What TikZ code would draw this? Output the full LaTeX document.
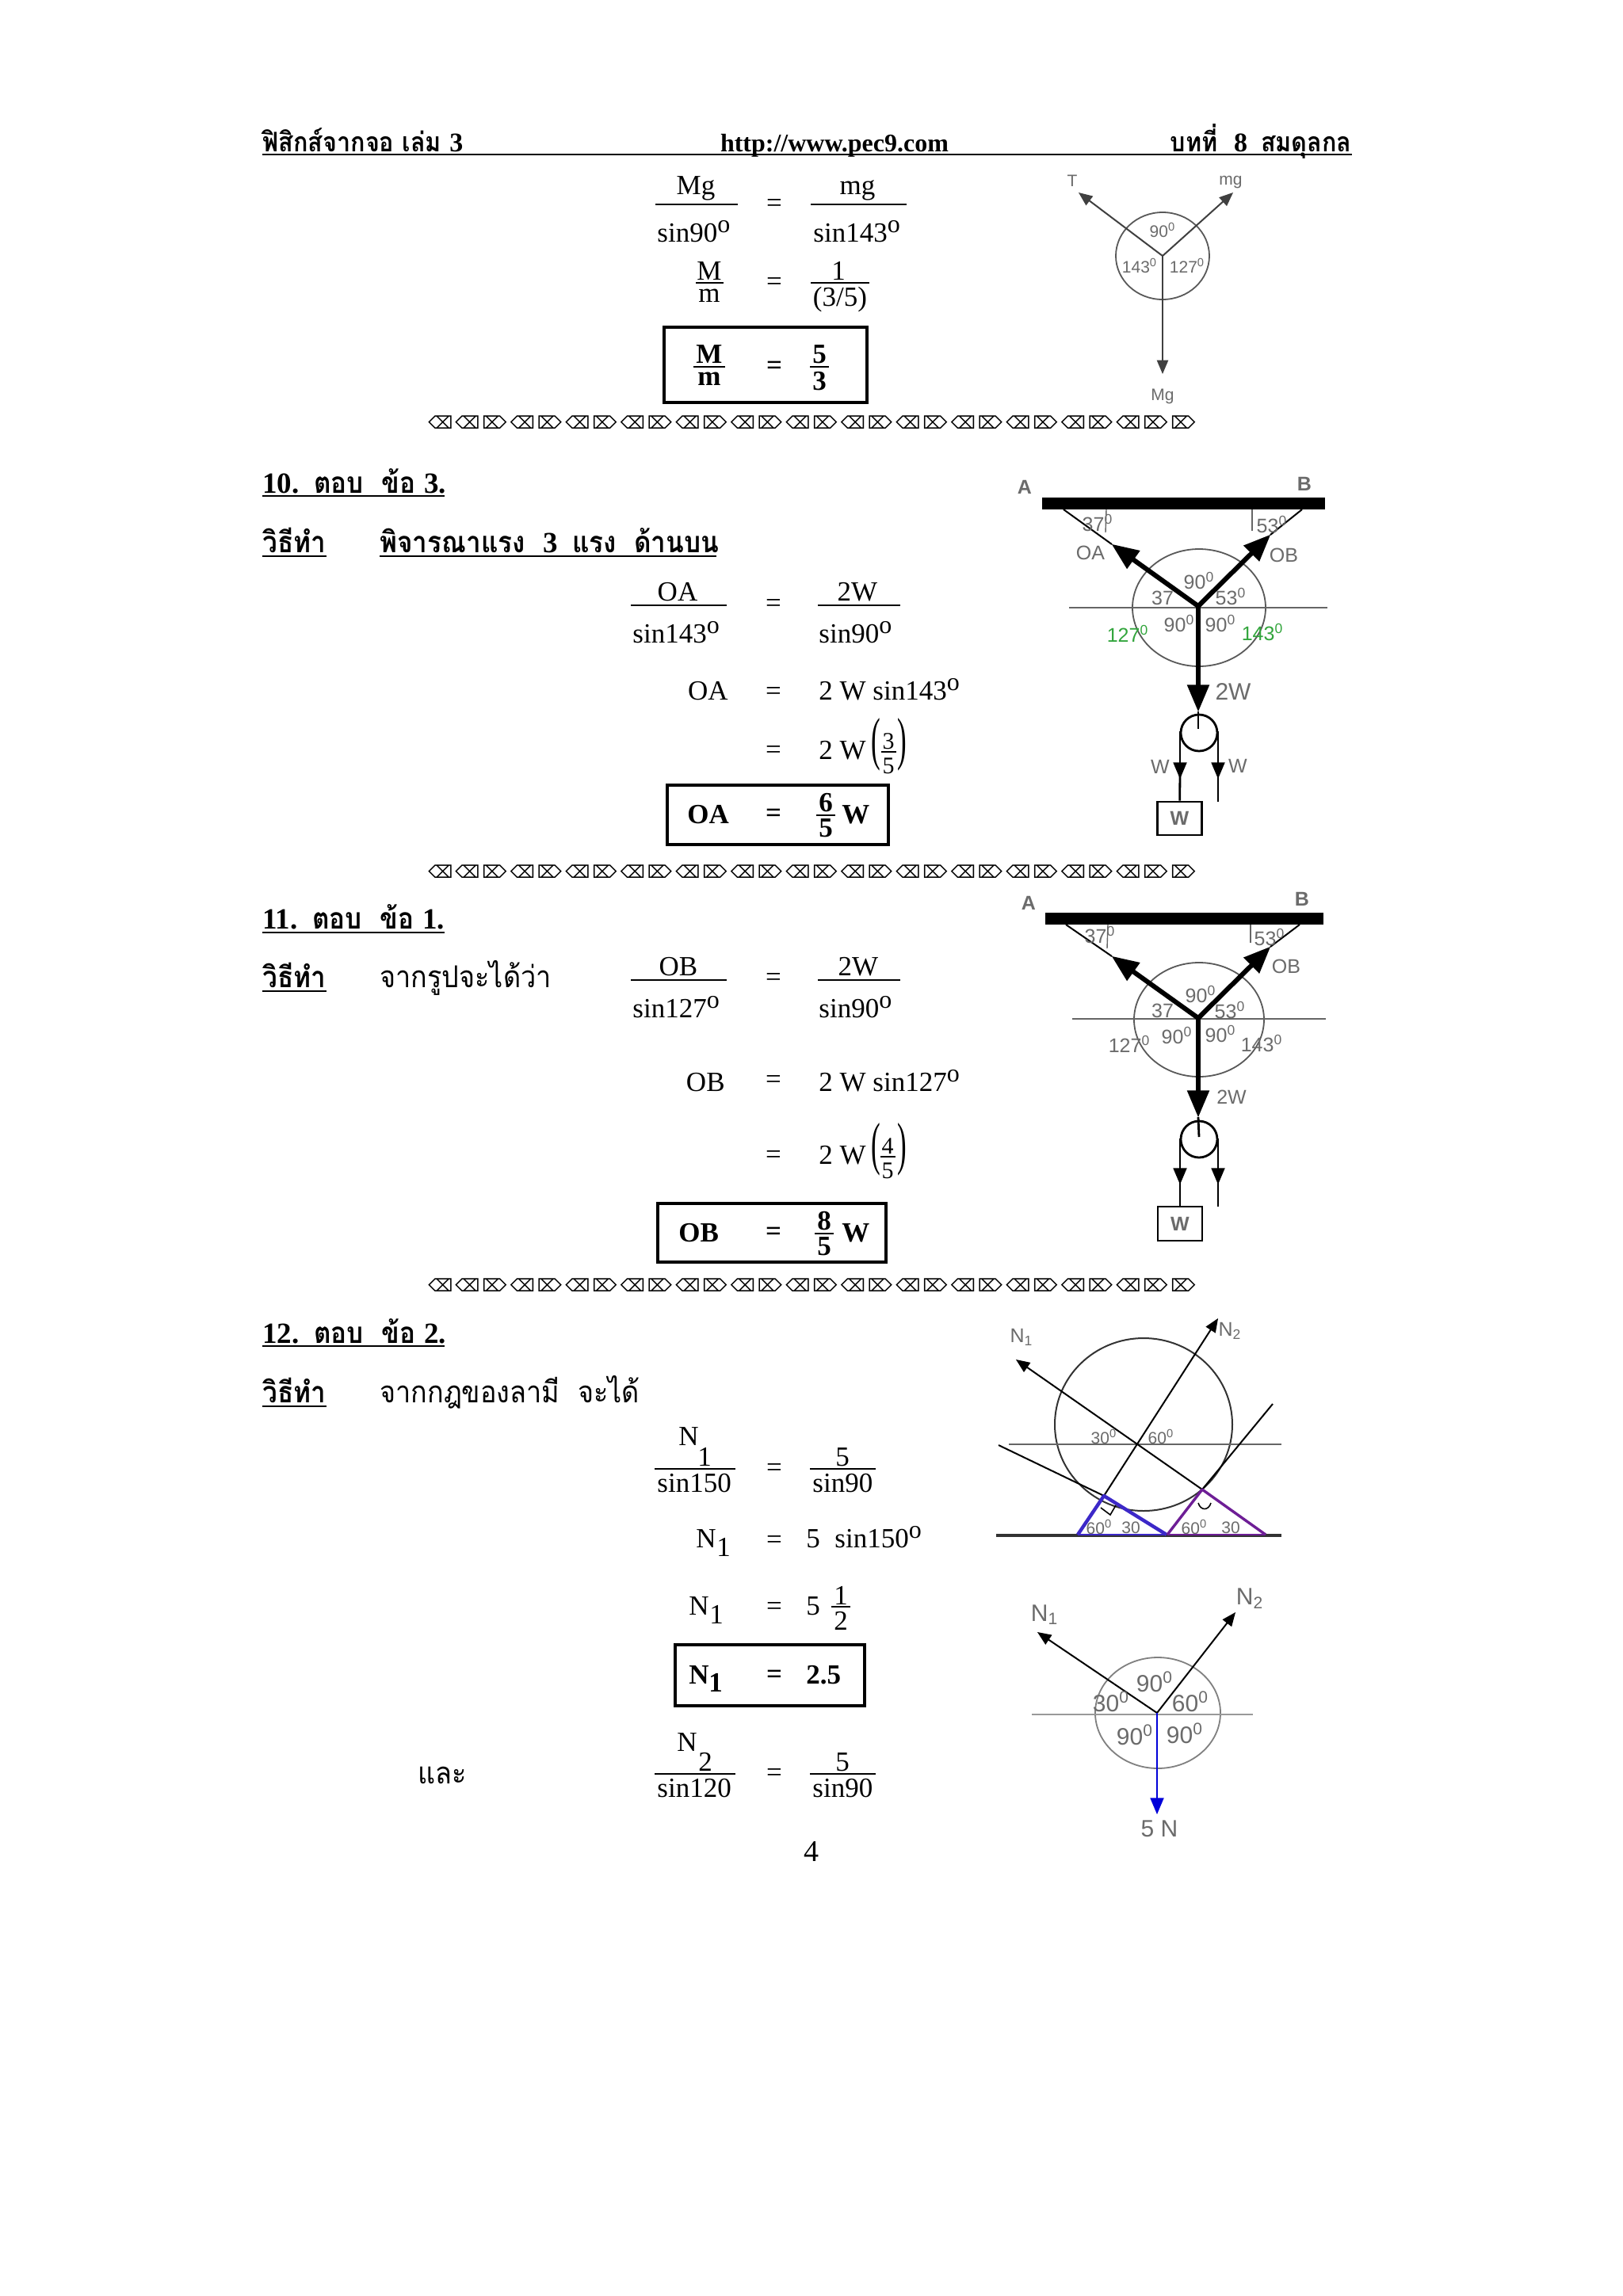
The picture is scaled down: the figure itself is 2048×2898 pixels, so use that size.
\documentclass[tikz,border=0pt]{standalone}
\usepackage{fontspec}
\setmainfont{Liberation Serif}
\setsansfont{Liberation Sans}
\newfontfamily\thaifont[Script=Thai,FakeStretch=.9]{Loma}
\newfontfamily\symfont{DejaVu Sans}
\usetikzlibrary{arrows}

\definecolor{forcegreen}{RGB}{50,165,60}
\definecolor{tribl}{RGB}{60,40,200}
\definecolor{tripu}{RGB}{110,30,150}
\definecolor{labgray}{gray}{.42}

\newcommand{\degO}{\raisebox{6pt}{\fontsize{16}{16}\selectfont o}}
\newcommand{\dg}{\textsuperscript{0}}
\newcommand{\sepline}[2]{%
  \node[sepg] (#1a) at (556,#2) {⌫};
  \foreach \k in {0,...,12} {
    \node[sepg] (#1l\k) at ({590+69.5*\k},#2) {⌫};
    \node[sepg] (#1r\k) at ({624+69.5*\k},#2) {⌦};
  }
  \node[sepg] (#1z) at (1493,#2) {⌦};
}

\begin{document}
\begin{tikzpicture}[x=.5pt,y=-.5pt,
    txt/.style={inner sep=0pt,anchor=base,font=\fontsize{17.5}{20}\selectfont},
    lt/.style={txt,anchor=base west},
    rt/.style={txt,anchor=base east},
    eq/.style={txt,anchor=center,yshift=-1.8pt},
    dig/.style={txt,font=\fontsize{15}{18}\selectfont},
    bt/.style={txt,font=\fontsize{17.5}{20}\selectfont\bfseries},
    blt/.style={bt,anchor=base west},
    beq/.style={bt,anchor=center,yshift=-1.8pt},
    head/.style={lt,font=\fontsize{18.5}{22}\selectfont\bfseries},
    sepg/.style={inner sep=0pt,font=\symfont\fontsize{11}{11}\selectfont},
    lab/.style={inner sep=0pt,text=labgray,font=\sffamily\fontsize{12.5}{12}\selectfont},
    sml/.style={lab,font=\sffamily\fontsize{10.5}{10}\selectfont},
    big/.style={lab,font=\sffamily\fontsize{15}{14}\selectfont},
    grn/.style={lab,text=forcegreen},
    bar/.style={line width=.8pt},
    bbar/.style={line width=1.2pt},
    ubar/.style={line width=1.1pt},
    ansbox/.style={draw,line width=2pt},
    force/.style={line width=3pt,-triangle 45},
    thinf/.style={line width=1pt,-triangle 45},
    rope/.style={line width=1.4pt},
    ring/.style={line width=.9pt,draw=black!65}]

  \useasboundingbox[fill=white] (0,0) rectangle (2048,2898);

  % the page head
  \node[lt,font=\fontsize{17}{18}\selectfont\bfseries] (hl) at (331,191) {\thaifont ฟิสิกส์จากจอ เล่ม \rmfamily 3};
  \node[txt,font=\fontsize{16}{16}\selectfont\bfseries] (hm) at (1053,191) {http://www.pec9.com};
  \node[rt,font=\fontsize{17}{18}\selectfont\bfseries] (hr) at (1706,191) {\thaifont บทที่\ \ \rmfamily 8\ \ \thaifont สมดุลกล};
  \draw[line width=.7pt] (hl.base west |- 0,195) -- (1706,195);

  % answer 9, the texts
  \node[txt] (mg1) at (878,245) {Mg};
  \draw[bar] (827,258) -- (931,258);
  \node[lt] (s1) at (829,305) {sin90\degO};
  \node[eq] (e1) at (977,256) {=};
  \node[txt] (mg2) at (1082,245) {mg};
  \draw[bar] (1023,258) -- (1144,258);
  \node[lt] (s2) at (1026,305) {sin143\degO};
  \node[txt] (m1) at (895,353) {M};
  \draw[bar] (878,357) -- (913,357);
  \node[txt] (m2) at (895,381) {m};
  \node[eq] (e2) at (977,355) {=};
  \node[txt] (one) at (1058,353) {1};
  \draw[bar] (1023,357) -- (1097,357);
  \node[txt] (tf) at (1060,386) {(3/5)};
  \draw[ansbox] (838,413) rectangle (1094,508);
  \node[bt] (m3) at (895,458) {M};
  \draw[bbar] (875,463) -- (915,463);
  \node[bt] (m4) at (895,486) {m};
  \node[beq] (e3) at (977,461) {=};
  \node[bt] (fv) at (1034,458) {5};
  \draw[bbar] (1022,463) -- (1046,463);
  \node[bt] (th) at (1034,492) {3};

  % answer 9, the forces
  \coordinate (oa) at (1467,323);
  \coordinate (ta) at (1361,243);
  \coordinate (tb) at (1556,243);
  \coordinate (tc) at (1467,472);
  \draw[ring] (oa) ellipse [x radius=59,y radius=55];
  \draw[thinf,black!75] (oa) -- (ta);
  \draw[thinf,black!75] (oa) -- (tb);
  \draw[thinf,black!75] (oa) -- (tc);
  \node[sml] (lt1) at (1353,228) {T};
  \node[sml] (lmg) at (1553,230) {mg};
  \node[sml] (lbg) at (1467,500) {Mg};
  \node[sml] (l90) at (1467,290) {90\dg};
  \node[sml] (l143) at (1438,335) {143\dg};
  \node[sml] (l127) at (1498,335) {127\dg};

  \sepline{sa}{533}

  % answer 10, the texts
  \node[head] (q10) at (331,622) {10.\ \ \thaifont ตอบ\ \ ข้อ \rmfamily 3.};
  \draw[ubar] (331,626) -- (561,626);
  \node[head] (w10) at (331,697) {\thaifont วิธีทำ};
  \draw[ubar] (331,702) -- (412,702);
  \node[head] (t10) at (479,697) {\thaifont พิจารณาแรง\ \ \rmfamily 3\ \ \thaifont แรง\ \ ด้านบน};
  \draw[ubar] (479,702) -- (904,702);
  \node[txt] (oa1) at (855,758) {OA};
  \draw[bar] (796,764) -- (917,764);
  \node[lt] (s3) at (798,811) {sin143\degO};
  \node[eq] (e4) at (976,761) {=};
  \node[txt] (tw1) at (1082,758) {2W};
  \draw[bar] (1032,764) -- (1136,764);
  \node[lt] (s4) at (1033,811) {sin90\degO};
  \node[rt] (oa2) at (919,883) {OA};
  \node[eq] (e5) at (976,872) {=};
  \node[lt] (r1) at (1033,883) {2 W sin143\degO};
  \node[eq] (e6) at (976,946) {=};
  \node[lt] (r2) at (1033,958) {2 W};
  \node[txt] (pl1) at (1105,957) {\scalebox{1}[2.1]{(}};
  \node[dig] (n3) at (1121,945) {3};
  \draw[bar] (1112,949) -- (1131,949);
  \node[dig] (n5) at (1121,976) {5};
  \node[txt] (pr1) at (1138,957) {\scalebox{1}[2.1]{)}};
  \draw[ansbox] (842,991) rectangle (1121,1066);
  \node[blt] (oa3) at (867,1039) {OA};
  \node[beq] (e7) at (976,1026) {=};
  \node[bt] (n6) at (1042,1024) {6};
  \draw[bbar] (1030,1029) -- (1054,1029);
  \node[bt] (n7) at (1042,1056) {5};
  \node[blt] (w1) at (1062,1039) {W};

  % answer 10, the forces
  \coordinate (ob) at (1512,765);
  \coordinate (anca) at (1342,643);
  \coordinate (ancb) at (1643,643);
  \coordinate (tipa) at (1403,687);
  \coordinate (tipb) at (1603,675);
  \coordinate (tipc) at (1512,898);
  \node[fill=black,inner sep=0pt,minimum width=178.5pt,minimum height=7.5pt] (roofa) at (1493.5,635.5) {};
  \draw[ring] (1513,767) ellipse [x radius=84,y radius=74];
  \draw[line width=.8pt,black!60] (1349,767) -- (1675,767);
  \draw[line width=1pt] (anca) -- (tipa);
  \draw[line width=1pt] (ancb) -- (tipb);
  \draw[line width=.7pt,black!60] (1396,643) -- (1395,672);
  \draw[line width=.7pt,black!60] (1580,643) -- (1580,670);
  \draw[force] (ob) -- (tipa);
  \draw[force] (ob) -- (tipb);
  \draw[force] (ob) -- (tipc);
  \node[lab] (la) at (1293,615) {\bfseries A};
  \node[lab] (lb) at (1646,611) {\bfseries B};
  \node[lab] (a37) at (1385,660) {37\dg};
  \node[lab] (a53) at (1605,662) {53\dg};
  \node[lab] (loa) at (1376,698) {OA};
  \node[lab] (lob) at (1620,701) {OB};
  \node[lab] (b90) at (1513,733) {90\dg};
  \node[lab] (b37) at (1467,755) {37};
  \node[lab] (b53) at (1553,753) {53\dg};
  \node[lab] (c90) at (1488,787) {90\dg};
  \node[lab] (d90) at (1540,787) {90\dg};
  \node[grn] (g127) at (1423,800) {127\dg};
  \node[grn] (g143) at (1593,798) {143\dg};
  \node[lab,font=\sffamily\fontsize{15}{14}\selectfont] (l2w) at (1556,873) {2W};
  \draw[rope] (1513,925) circle [radius=23];
  \draw[rope] (tipc) -- (1512,920);
  \node[draw,line width=1.3pt,inner sep=0pt,minimum width=28pt,minimum height=21pt] (boxa) at (1488.5,1033) {};
  \node[lab] (wa) at (boxa) {\bfseries W};
  \coordinate (rla) at (1489,923);
  \coordinate (rra) at (1537,923);
  \coordinate (rea) at (1537,1012);
  \draw[rope,-triangle 45] (rla) -- (1489,983);
  \draw[rope] (1489,975) -- (boxa);
  \draw[rope,-triangle 45] (rra) -- (1537,983);
  \draw[rope] (1537,975) -- (rea);
  \node[lab] (wb) at (1464,968) {W};
  \node[lab] (wc) at (1562,967) {W};

  \sepline{sb}{1100}

  % answer 11, the texts
  \node[head] (q11) at (331,1172) {11.\ \ \thaifont ตอบ\ \ ข้อ \rmfamily 1.};
  \draw[ubar] (331,1177) -- (561,1177);
  \node[head] (w11) at (331,1246) {\thaifont วิธีทำ};
  \draw[ubar] (331,1251) -- (412,1251);
  \node[lt,font=\fontsize{19}{22}\selectfont] (t11) at (479,1246) {\thaifont จากรูปจะได้ว่า};
  \node[txt] (ob1) at (856,1231) {OB};
  \draw[bar] (796,1237) -- (917,1237);
  \node[lt] (s5) at (798,1284) {sin127\degO};
  \node[eq] (e8) at (976,1233) {=};
  \node[txt] (tw2) at (1083,1231) {2W};
  \draw[bar] (1032,1237) -- (1136,1237);
  \node[lt] (s6) at (1033,1284) {sin90\degO};
  \node[rt] (ob2) at (915,1377) {OB};
  \node[eq] (e9) at (976,1362) {=};
  \node[lt] (r3) at (1033,1377) {2 W sin127\degO};
  \node[eq] (e10) at (976,1457) {=};
  \node[lt] (r4) at (1033,1469) {2 W};
  \node[txt] (pl2) at (1105,1468) {\scalebox{1}[2.1]{(}};
  \node[dig] (n4) at (1120,1456) {4};
  \draw[bar] (1111,1460) -- (1130,1460);
  \node[dig] (n8) at (1120,1487) {5};
  \node[txt] (pr2) at (1138,1468) {\scalebox{1}[2.1]{)}};
  \draw[ansbox] (830,1519) rectangle (1118,1593);
  \node[blt] (ob3) at (856,1567) {OB};
  \node[beq] (e11) at (976,1554) {=};
  \node[bt] (n9) at (1040,1552) {8};
  \draw[bbar] (1028,1557) -- (1052,1557);
  \node[bt] (n10) at (1040,1584) {5};
  \node[blt] (w2) at (1062,1567) {W};

  % answer 11, the forces
  \coordinate (oc) at (1512,1285);
  \coordinate (ancc) at (1345,1167);
  \coordinate (ancd) at (1640,1167);
  \coordinate (tipd) at (1403,1207);
  \coordinate (tipe) at (1603,1195);
  \coordinate (tipf) at (1512,1410);
  \node[fill=black,inner sep=0pt,minimum width=175.5pt,minimum height=7.5pt] (roofb) at (1494.5,1159.5) {};
  \draw[ring] (1513,1287) ellipse [x radius=82,y radius=72];
  \draw[line width=.8pt,black!60] (1353,1286) -- (1673,1286);
  \draw[line width=1pt] (ancc) -- (tipd);
  \draw[line width=1pt] (ancd) -- (tipe);
  \draw[line width=.7pt,black!60] (1398,1167) -- (1397,1197);
  \draw[line width=.7pt,black!60] (1578,1167) -- (1578,1190);
  \draw[force] (oc) -- (tipd);
  \draw[force] (oc) -- (tipe);
  \draw[force] (oc) -- (tipf);
  \node[lab] (lc) at (1298,1140) {\bfseries A};
  \node[lab] (ld) at (1643,1135) {\bfseries B};
  \node[lab] (e37) at (1388,1180) {37\dg};
  \node[lab] (e53) at (1602,1183) {53\dg};
  \node[lab] (lob2) at (1623,1220) {OB};
  \node[lab] (f90) at (1515,1255) {90\dg};
  \node[lab] (f37) at (1467,1276) {37};
  \node[lab] (f53) at (1552,1275) {53\dg};
  \node[lab] (h90) at (1485,1307) {90\dg};
  \node[lab] (i90) at (1540,1305) {90\dg};
  \node[lab] (j127) at (1425,1318) {127\dg};
  \node[lab] (j143) at (1592,1317) {143\dg};
  \node[lab] (l2w2) at (1554,1385) {2W};
  \draw[rope] (1513,1438) circle [radius=23];
  \draw[rope] (tipf) -- (1513,1435);
  \node[draw,line width=1.3pt,inner sep=0pt,minimum width=28pt,minimum height=21.5pt] (boxb) at (1489,1544.5) {};
  \node[lab] (wd) at (boxb) {\bfseries W};
  \coordinate (rlb) at (1489,1437);
  \coordinate (rrb) at (1537,1437);
  \coordinate (reb) at (1537,1523);
  \draw[rope,-triangle 45] (rlb) -- (1489,1495);
  \draw[rope] (1489,1487) -- (boxb);
  \draw[rope,-triangle 45] (rrb) -- (1537,1495);
  \draw[rope] (1537,1487) -- (reb);

  \sepline{sc}{1622}

  % answer 12, the texts
  \node[head] (q12) at (331,1695) {12.\ \ \thaifont ตอบ\ \ ข้อ \rmfamily 2.};
  \draw[ubar] (331,1699) -- (561,1699);
  \node[head] (w12) at (331,1770) {\thaifont วิธีทำ};
  \draw[ubar] (331,1775) -- (412,1775);
  \node[lt,font=\fontsize{19}{22}\selectfont] (t12) at (479,1770) {\thaifont จากกฎของลามี\ \ จะได้};
  \node[txt] (na) at (869,1824) {N};
  \node[txt] (nb) at (889,1850) {1};
  \draw[bar] (826,1854) -- (928,1854);
  \node[lt] (s7) at (829,1883) {sin150};
  \node[eq] (e12) at (977,1852) {=};
  \node[txt] (fa) at (1063,1850) {5};
  \draw[bar] (1022,1854) -- (1105,1854);
  \node[lt] (s8) at (1025,1883) {sin90};
  \node[lt] (nc) at (878,1953) {N};
  \node[txt] (nd) at (913,1964) {1};
  \node[eq] (e13) at (977,1943) {=};
  \node[lt] (fb) at (1017,1953) {5};
  \node[lt] (s9) at (1053,1953) {sin150\degO};
  \node[lt] (ne) at (869,2038) {N};
  \node[txt] (nf) at (904,2049) {1};
  \node[eq] (e14) at (977,2027) {=};
  \node[lt] (fc) at (1017,2038) {5};
  \node[txt] (ha) at (1061,2025) {1};
  \draw[bar] (1049,2028) -- (1073,2028);
  \node[txt] (hb) at (1061,2057) {2};
  \draw[ansbox] (852,2076) rectangle (1091,2153);
  \node[blt] (ng) at (869,2125) {N};
  \node[bt] (nh) at (903,2135) {1};
  \node[beq] (e15) at (977,2113) {=};
  \node[blt] (va) at (1017,2125) {2.5};
  \node[lt,font=\fontsize{19}{22}\selectfont] (t13) at (527,2251) {\thaifont และ};
  \node[txt] (ni) at (867,2210) {N};
  \node[txt] (nj) at (890,2235) {2};
  \draw[bar] (826,2239) -- (928,2239);
  \node[lt] (s10) at (829,2268) {sin120};
  \node[eq] (e16) at (977,2237) {=};
  \node[txt] (fd) at (1063,2235) {5};
  \draw[bar] (1022,2239) -- (1105,2239);
  \node[lt] (s11) at (1025,2268) {sin90};
  \node[txt,font=\fontsize{19}{22}\selectfont] (pg) at (1024,2349) {4};

  % answer 12, the sphere on its wedges
  \coordinate (od) at (1437,1824);
  \coordinate (pa) at (1517,1880);
  \coordinate (pb) at (1393,1888);
  \coordinate (tn1) at (1282,1716);
  \coordinate (tn2) at (1537,1664);
  \coordinate (sa) at (1260,1824);
  \coordinate (sb) at (1606,1772);
  \draw[line width=1pt,black!80] (1443,1798) ellipse [x radius=112,y radius=109];
  \draw[line width=.8pt,black!60] (1273,1823) -- (1617,1823);
  \draw[thinf] (pa) -- (tn1);
  \draw[thinf] (pb) -- (tn2);
  \draw[line width=1pt] (sa) -- (pb);
  \draw[line width=1pt] (pa) -- (sb);
  \draw[line width=1.6pt,black!80] (1257,1938) -- (1617,1938);
  \draw[line width=2.2pt,tribl,join=round] (1472,1937) -- (pb) -- (1360,1937);
  \draw[line width=.9pt,tribl] (1360,1937) -- (1472,1937);
  \draw[line width=1.7pt,tripu,join=round] (1473,1937) -- (pa) -- (1597,1937);
  \draw[line width=.9pt,tripu] (1473,1937) -- (1597,1937);
  \draw[line width=.8pt] (1389,1903) -- (1401,1912) -- (1408,1900);
  \draw[line width=.8pt] (1512,1897) .. controls (1515,1907) and (1525,1907) .. (1528,1897);
  \node[sml] (k30) at (1393,1813) {30\dg};
  \node[sml] (k60) at (1465,1813) {60\dg};
  \node[sml] (u60) at (1387,1927) {60\dg};
  \node[sml] (u30) at (1427,1928) {30};
  \node[sml] (v60) at (1507,1927) {60\dg};
  \node[sml] (v30) at (1553,1928) {30};
  \node[lab] (ln1) at (1289,1688) {N\textsubscript{1}};
  \node[lab] (ln2) at (1552,1680) {N\textsubscript{2}};

  % answer 12, the forces
  \coordinate (oe) at (1460,2162);
  \coordinate (tp1) at (1309,2060);
  \coordinate (tp2) at (1559,2035);
  \coordinate (tp3) at (1460,2290);
  \draw[ring,black!50] (1461,2162) ellipse [x radius=79,y radius=70];
  \draw[line width=1.1pt,black!40] (1302,2164) -- (1581,2164);
  \draw[thinf] (oe) -- (tp1);
  \draw[thinf] (oe) -- (tp2);
  \draw[thinf,line width=1.4pt,blue!85!black] (oe) -- (tp3);
  \node[big] (ln3) at (1318,2038) {N\textsubscript{1}};
  \node[big] (ln4) at (1577,2018) {N\textsubscript{2}};
  \node[big] (m90) at (1457,2123) {90\dg};
  \node[big] (m30) at (1402,2148) {30\dg};
  \node[big] (m60) at (1502,2148) {60\dg};
  \node[big] (p90) at (1432,2190) {90\dg};
  \node[big] (q90) at (1495,2188) {90\dg};
  \node[big] (l5n) at (1463,2308) {5 N};

\end{tikzpicture}
\end{document}
